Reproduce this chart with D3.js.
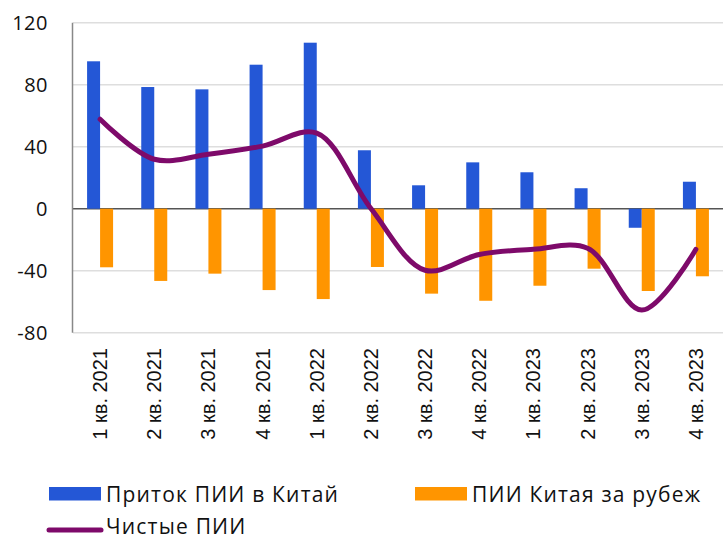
<!DOCTYPE html>
<html><head><meta charset="utf-8">
<script src="https://cdn.jsdelivr.net/npm/d3@7/dist/d3.min.js"></script>
<style>body{margin:0;background:#fff;} svg{display:block;}</style>
</head><body><svg id="c" width="723" height="540"></svg>
<script>
const categories = ["1 кв. 2021","2 кв. 2021","3 кв. 2021","4 кв. 2021","1 кв. 2022","2 кв. 2022","3 кв. 2022","4 кв. 2022","1 кв. 2023","2 кв. 2023","3 кв. 2023","4 кв. 2023"];
const inflow = [95.1, 78.5, 77.0, 92.9, 107.1, 37.7, 15.1, 29.9, 23.5, 13.2, -12.3, 17.4];
const outflow = [-37.8, -46.6, -41.9, -52.5, -58.3, -37.6, -54.8, -59.4, -49.7, -38.7, -53.1, -43.6];
const net = [57.7, 31.9, 35.1, 40.4, 48.8, 0.1, -39.7, -29.5, -26.2, -25.5, -65.4, -26.2];
const yTicks = [-80, -40, 0, 40, 80, 120];
const seriesNames = ["Приток ПИИ в Китай", "ПИИ Китая за рубеж", "Чистые ПИИ"];

const svg = d3.select("#c");
const L = 73, R = 723, T = 22.7, B = 332.7;
const x = d3.scaleBand().domain(categories).range([L, R]);
const y = d3.scaleLinear().domain([-80, 120]).range([B, T]);
const bw = 13;

// gridlines
svg.append("g").selectAll("line").data(yTicks).join("line")
  .attr("x1", L).attr("x2", R).attr("y1", d => y(d)).attr("y2", d => y(d))
  .attr("stroke", d => d === 0 ? "#555" : "#dedede").attr("stroke-width", 1.5);

// y axis line
svg.append("line").attr("x1", L-0.5).attr("x2", L-0.5).attr("y1", T).attr("y2", B)
  .attr("stroke", "#888").attr("stroke-width", 1.5);

// y tick labels
svg.append("g").selectAll("text").data(yTicks).join("text")
  .attr("x", 48).attr("y", d => y(d)).attr("dy", "0.35em")
  .attr("text-anchor", "end").attr("font-family", "Open Sans").attr("font-size", 20)
  .attr("letter-spacing", 0.5)
  .attr("fill", "#111").text(d => d);

// bars
svg.append("g").selectAll("rect").data(inflow).join("rect")
  .attr("x", (d,i) => x(categories[i]) + x.bandwidth()/2 - bw)
  .attr("width", bw)
  .attr("y", d => y(Math.max(0,d))).attr("height", d => Math.abs(y(d) - y(0)))
  .attr("fill", "#2457d6");
svg.append("g").selectAll("rect").data(outflow).join("rect")
  .attr("x", (d,i) => x(categories[i]) + x.bandwidth()/2)
  .attr("width", bw)
  .attr("y", d => y(Math.max(0,d))).attr("height", d => Math.abs(y(d) - y(0)))
  .attr("fill", "#ff9500");

// net line
const line = d3.line()
  .x((d,i) => x(categories[i]) + x.bandwidth()/2)
  .y(d => y(d))
  .curve(d3.curveCatmullRom.alpha(0.5));
svg.append("path").datum(net).attr("d", line)
  .attr("fill", "none").attr("stroke", "#7e0a6a").attr("stroke-width", 5)
  .attr("stroke-linecap", "round");

// x labels
svg.append("g").selectAll("text").data(categories).join("text")
  .attr("transform", d => `translate(${x(d)+x.bandwidth()/2 + 7},348) rotate(-90)`)
  .attr("text-anchor", "end")
  .attr("font-family", "Liberation Sans").attr("font-size", 20).attr("fill", "#111")
  .text(d => d);

// legend
const lg = svg.append("g").attr("font-family", "Open Sans").attr("font-size", 21)
  .attr("letter-spacing", 1.2).attr("fill", "#111");
lg.append("rect").attr("x", 49).attr("y", 487).attr("width", 52).attr("height", 13.5).attr("fill", "#2457d6");
lg.append("text").attr("x", 106).attr("y", 502).text(seriesNames[0]);
lg.append("rect").attr("x", 415).attr("y", 487).attr("width", 52).attr("height", 13.5).attr("fill", "#ff9500");
lg.append("text").attr("x", 472).attr("y", 502).text(seriesNames[1]);
lg.append("line").attr("x1", 49).attr("x2", 101).attr("y1", 530).attr("y2", 530)
  .attr("stroke", "#7e0a6a").attr("stroke-width", 5).attr("stroke-linecap", "round");
lg.append("text").attr("x", 106).attr("y", 534).text(seriesNames[2]);
</script></body></html>
